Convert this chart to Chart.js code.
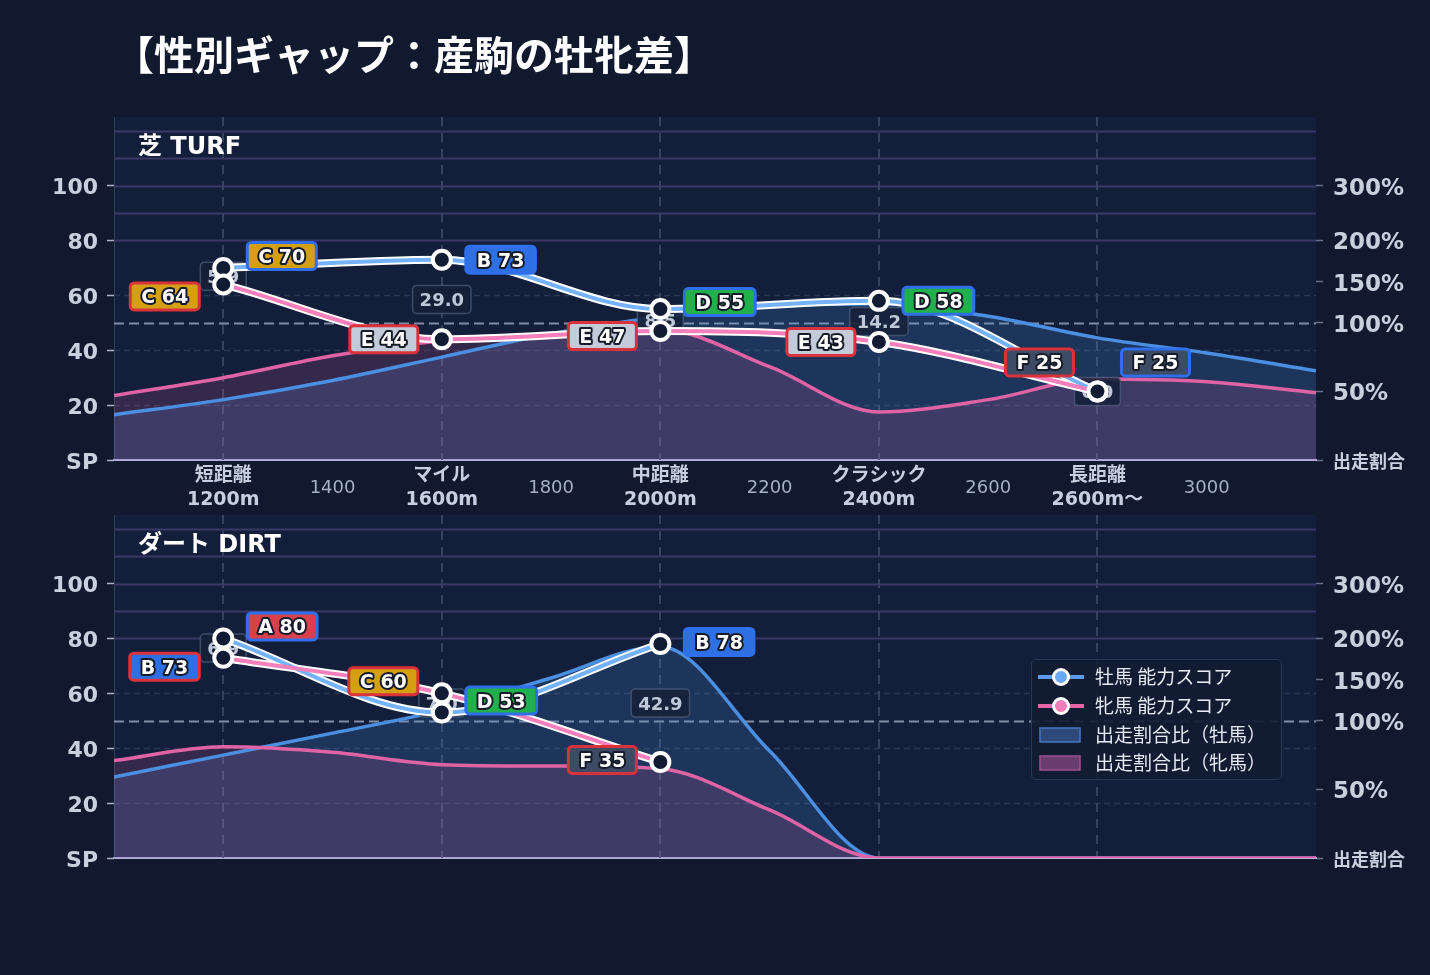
<!DOCTYPE html>
<html><head><meta charset="utf-8">
<script src="https://cdn.jsdelivr.net/npm/chart.js@4.4.1/dist/chart.umd.min.js"></script>
<style>
html,body{margin:0;padding:0;background:#10192e;width:1430px;height:975px;overflow:hidden;}
#wrap{position:relative;width:1430px;height:975px;}
#title{position:absolute;left:114px;top:33px;font:bold 40px 'Noto Sans CJK JP',sans-serif;line-height:40px;color:#ffffff;white-space:nowrap;z-index:5;}
canvas{position:absolute;left:0;}
#turf{top:0;}
#dirt{top:500px;}
#legend{position:absolute;left:1031px;top:659px;width:249px;height:119px;border:1.5px solid #2b3653;border-radius:5px;background:rgba(17,27,50,0.92);z-index:5;}
.row{position:absolute;left:0;height:29px;width:100%;}
.row svg{position:absolute;left:6px;top:4px;}
.row span{position:absolute;left:63px;top:-1px;font:19px 'Noto Sans CJK JP',sans-serif;line-height:29px;color:#e6eaf2;white-space:nowrap;}
</style></head>
<body><div id="wrap">
<div id="title">【性別ギャップ：産駒の牡牝差】</div>
<canvas id="turf" width="1430" height="520"></canvas>
<canvas id="dirt" width="1430" height="420"></canvas>
<div id="legend">
  <div class="row" style="top:2px"><svg width="48" height="22"><line x1="0" y1="11" x2="46" y2="11" stroke="#5b9cf0" stroke-width="4"/><circle cx="23" cy="11" r="7.5" fill="#6aaaf5" stroke="#fff" stroke-width="3"/></svg><span>牡馬 能力スコア</span></div>
  <div class="row" style="top:31px"><svg width="48" height="22"><line x1="0" y1="11" x2="46" y2="11" stroke="#e866a8" stroke-width="4"/><circle cx="23" cy="11" r="7.5" fill="#f27cb8" stroke="#fff" stroke-width="3"/></svg><span>牝馬 能力スコア</span></div>
  <div class="row" style="top:60px"><svg width="48" height="22"><rect x="2" y="4" width="40" height="14" fill="#2e4a7a" stroke="#4677c2" stroke-width="1.5"/></svg><span>出走割合比（牡馬）</span></div>
  <div class="row" style="top:88px"><svg width="48" height="22"><rect x="2" y="4" width="40" height="14" fill="#6b3d6e" stroke="#9c4f8e" stroke-width="1.5"/></svg><span>出走割合比（牝馬）</span></div>
</div>
</div>
<script>
// ---------- data ----------
const categoryDistances = [1200, 1600, 2000, 2400, 2800];
const ratioDistances = [1000, 1200, 1400, 1600, 1800, 2000, 2200, 2400, 2600, 2800, 3000, 3200];
const xTickValues = [1200, 1400, 1600, 1800, 2000, 2200, 2400, 2600, 2800, 3000];
const xTickLabels = [['短距離','1200m'], '1400', ['マイル','1600m'], '1800', ['中距離','2000m'], '2200', ['クラシック','2400m'], '2600', ['長距離','2600m〜'], '3000'];
const yTickValues = [0, 20, 40, 60, 80, 100];
const yTickLabels = ['SP', '20', '40', '60', '80', '100'];
const ratioTickPercents = [0, 50, 100, 150, 200, 300];
const ratioTickLabels = ['出走割合', '50%', '100%', '150%', '200%', '300%'];

const turfMaleScore = [70, 73, 55, 58, 25];
const turfFemaleScore = [64, 44, 47, 43, 25];
const turfMaleGrade = ['C', 'B', 'D', 'D', 'F'];
const turfFemaleGrade = ['C', 'E', 'E', 'E', 'F'];
const turfGap = [5.9, 29.0, 8.5, 14.2, 0.0];
const turfMaleRatio = [33, 44, 58, 75, 92, 107, 120, 123, 108, 89, 78, 65];
const turfFemaleRatio = [47, 60, 76, 87, 92, 95, 68, 35, 44, 59, 57, 49];

const dirtMaleScore = [80, 53, 78, null, null];
const dirtFemaleScore = [73, 60, 35, null, null];
const dirtMaleGrade = ['A', 'D', 'B', null, null];
const dirtFemaleGrade = ['B', 'C', 'F', null, null];
const dirtGap = [6.9, 7.0, 42.9, null, null];
const dirtMaleRatio = [59, 75, 91, 113, 152, 190, 78, 0, 0, 0, 0, 0];
const dirtFemaleRatio = [71, 81, 77, 68, 67, 65, 35, 0, 0, 0, 0, 0];

// ---------- styles ----------
const FONT = "'DejaVu Sans', 'Noto Sans CJK JP', sans-serif";
const GRADE_FILL = {A:'#d8414b', B:'#2f6fe4', C:'#d4a012', D:'#21b04b', E:'#c3cbd9', F:'#3d4b64'};
const SEX_BORDER = {male:'#2f6fec', female:'#d9323a'};
const LABEL_NUDGE = {
  turf: {male: [-12, 0, -7, 0, -29], female: [12, 0, 5, 0, -29]},
  dirt: {male: [-12, -12, -2, 0, 0], female: [9, -12, -2, 0, 0]}
};

// right axis: piecewise mapping of ratio (%) onto the shared score scale
function ratioToScale(p) {
  if (p <= 100) return p / 2;
  if (p <= 200) return 50 + (p - 100) * 0.3;
  return 80 + (p - 200) * 0.2;
}

function drawBox(ctx, cx, cy, w, h, fill, stroke, lw) {
  ctx.beginPath();
  ctx.roundRect(cx - w / 2, cy - h / 2, w, h, 4);
  ctx.fillStyle = fill; ctx.fill();
  ctx.lineWidth = lw; ctx.strokeStyle = stroke; ctx.stroke();
}

const panelPlugin = {
  id: 'panel',
  beforeDraw(chart) {
    const {ctx, chartArea: a} = chart;
    ctx.save();
    ctx.fillStyle = '#131f3a';
    ctx.fillRect(a.left, a.top, a.right - a.left, a.bottom - a.top);
    ctx.restore();
  },
  beforeDatasetsDraw(chart) {
    const {ctx, chartArea: a, scales: {x, y}} = chart;
    ctx.save();
    ctx.strokeStyle = '#3a3866'; ctx.lineWidth = 2; ctx.setLineDash([]);
    [80, 90, 100, 110, 120].forEach(v => {
      const py = Math.round(y.getPixelForValue(v)) + 0.5;
      ctx.beginPath(); ctx.moveTo(a.left, py); ctx.lineTo(a.right, py); ctx.stroke();
    });
    ctx.strokeStyle = '#2a3655'; ctx.lineWidth = 1.5; ctx.setLineDash([6, 4]);
    [20, 40, 60].forEach(v => {
      const py = Math.round(y.getPixelForValue(v)) + 0.5;
      ctx.beginPath(); ctx.moveTo(a.left, py); ctx.lineTo(a.right, py); ctx.stroke();
    });
    ctx.strokeStyle = '#36435f'; ctx.lineWidth = 2; ctx.setLineDash([9, 7]);
    categoryDistances.forEach(d => {
      const px = Math.round(x.getPixelForValue(d));
      ctx.beginPath(); ctx.moveTo(px, a.top); ctx.lineTo(px, a.bottom); ctx.stroke();
    });
    ctx.strokeStyle = 'rgba(150,162,185,0.85)'; ctx.lineWidth = 2; ctx.setLineDash([10, 5]);
    const p100 = Math.round(y.getPixelForValue(ratioToScale(100))) + 0.5;
    ctx.beginPath(); ctx.moveTo(a.left, p100); ctx.lineTo(a.right, p100); ctx.stroke();
    ctx.restore();
  },
  afterDatasetDraw(chart, args) {
    const ds = chart.data.datasets[args.index];
    if (ds.id !== 'femaleRatioLine') return;
    const spec = chart.options.plugins.panel;
    const {ctx, scales: {x, y}} = chart;
    ctx.save();
    ctx.font = 'bold 18px ' + FONT; ctx.textAlign = 'center'; ctx.textBaseline = 'middle';
    categoryDistances.forEach((d, i) => {
      const g = spec.gap[i];
      if (g === null || g === undefined) return;
      const mid = (spec.male[i] + spec.female[i]) / 2;
      const px = x.getPixelForValue(d), py = y.getPixelForValue(mid);
      const t = g.toFixed(1);
      const w = ctx.measureText(t).width + 14;
      drawBox(ctx, px, py, w, 28, 'rgba(22,32,56,0.9)', 'rgba(80,95,125,0.7)', 1.5);
      ctx.fillStyle = '#bfc8d8'; ctx.fillText(t, px, py + 2);
    });
    ctx.restore();
  },
  afterDatasetsDraw(chart) {
    const spec = chart.options.plugins.panel;
    const {ctx, chartArea: a, scales: {x, y}} = chart;
    ctx.save();
    ctx.font = 'bold 19px ' + FONT; ctx.textAlign = 'center'; ctx.textBaseline = 'middle';
    ctx.lineJoin = 'round';
    const draw = (score, grade, sex, nudge, i) => {
      if (score === null) return;
      const px = x.getPixelForValue(categoryDistances[i]);
      const py = y.getPixelForValue(score) + nudge;
      const t = grade + ' ' + score;
      const w = ctx.measureText(t).width + 22;
      const cx = sex === 'male' ? px + 24 + w / 2 : px - 24 - w / 2;
      drawBox(ctx, cx, py, w, 27, GRADE_FILL[grade], SEX_BORDER[sex], 3);
      ctx.strokeStyle = '#161b2a'; ctx.lineWidth = 4;
      ctx.strokeText(t, cx, py + 2);
      ctx.fillStyle = '#ffffff'; ctx.fillText(t, cx, py + 2);
    };
    categoryDistances.forEach((d, i) => {
      draw(spec.female[i], spec.femaleGrade[i], 'female', spec.nudge.female[i], i);
      draw(spec.male[i], spec.maleGrade[i], 'male', spec.nudge.male[i], i);
    });
    ctx.font = 'bold 24px ' + FONT; ctx.textAlign = 'left'; ctx.fillStyle = '#ffffff';
    ctx.fillText(spec.title, a.left + 24, a.top + 31);
    if (spec.showXLabels) {
      ctx.textAlign = 'center';
      xTickValues.forEach((v, i) => {
        const lab = xTickLabels[i];
        const px = x.getPixelForValue(v);
        if (Array.isArray(lab)) {
          ctx.font = 'bold 19px ' + FONT; ctx.fillStyle = '#c6cfe0';
          ctx.fillText(lab[0], px, a.bottom + 16);
          ctx.fillText(lab[1], px, a.bottom + 40);
        } else {
          ctx.font = '18px ' + FONT; ctx.fillStyle = '#a4b0c5';
          ctx.fillText(lab, px, a.bottom + 28);
        }
      });
    }
    ctx.restore();
  }
};

function makeChart(id, spec, padTop, xHeight) {
  const catPts = arr => categoryDistances.map((d, i) => ({x: d, y: arr[i]})).filter(p => p.y !== null);
  const ratioPts = arr => ratioDistances.map((d, i) => ({x: d, y: ratioToScale(arr[i])}));
  const mono = 'monotone';
  const datasets = [
    {id: 'maleRatioFill', data: ratioPts(spec.maleRatio), borderWidth: 0, borderColor: 'rgba(0,0,0,0)', backgroundColor: 'rgba(74,144,226,0.2)', fill: 'origin', pointRadius: 0, cubicInterpolationMode: mono, order: 12},
    {id: 'femaleRatioFill', data: ratioPts(spec.femaleRatio), borderWidth: 0, borderColor: 'rgba(0,0,0,0)', backgroundColor: 'rgba(224,96,160,0.17)', fill: 'origin', pointRadius: 0, cubicInterpolationMode: mono, order: 11},
    {id: 'maleRatioLine', data: ratioPts(spec.maleRatio), borderColor: '#4b8fe2', borderWidth: 3.5, fill: false, pointRadius: 0, cubicInterpolationMode: mono, order: 10},
    {id: 'femaleRatioLine', data: ratioPts(spec.femaleRatio), borderColor: '#e063a6', borderWidth: 3.5, fill: false, pointRadius: 0, cubicInterpolationMode: mono, order: 9},
    {id: 'maleOutline', data: catPts(spec.male), borderColor: '#ffffff', borderWidth: 8, pointRadius: 0, fill: false, cubicInterpolationMode: mono, order: 4},
    {id: 'femaleOutline', data: catPts(spec.female), borderColor: '#ffffff', borderWidth: 8, pointRadius: 0, fill: false, cubicInterpolationMode: mono, order: 3},
    {id: 'maleScore', data: catPts(spec.male), borderColor: '#74b2fc', borderWidth: 4, pointRadius: 9, pointBorderWidth: 4, pointBorderColor: '#ffffff', pointBackgroundColor: '#111b34', fill: false, cubicInterpolationMode: mono, order: 2},
    {id: 'femaleScore', data: catPts(spec.female), borderColor: '#f47fba', borderWidth: 4, pointRadius: 9, pointBorderWidth: 4, pointBorderColor: '#ffffff', pointBackgroundColor: '#111b34', fill: false, cubicInterpolationMode: mono, order: 1}
  ];
  return new Chart(document.getElementById(id), {
    type: 'line',
    data: {datasets},
    plugins: [panelPlugin],
    options: {
      responsive: false, animation: false, devicePixelRatio: 1, events: [],
      layout: {padding: {top: padTop, left: 0, right: 0, bottom: 0}},
      plugins: {legend: {display: false}, tooltip: {enabled: false}, panel: spec},
      scales: {
        x: {
          type: 'linear', min: 1000, max: 3200,
          afterBuildTicks: s => { s.ticks = xTickValues.map(v => ({value: v})); },
          afterFit: s => { s.height = xHeight; s.paddingLeft = 0; s.paddingRight = 0; },
          ticks: {display: false},
          grid: {display: true, drawOnChartArea: false, drawTicks: false},
          border: {display: true, color: '#b7b0da', width: 2}
        },
        y: {
          position: 'left', min: 0, max: 125,
          afterBuildTicks: s => { s.ticks = yTickValues.map(v => ({value: v})); },
          afterFit: s => { s.width = 114; s.paddingTop = 0; s.paddingBottom = 0; },
          ticks: {
            callback: v => yTickLabels[yTickValues.indexOf(v)],
            font: {family: FONT, size: 22, weight: 'bold'}, color: '#c8d0de', padding: 9, labelOffset: 3
          },
          grid: {drawOnChartArea: false, drawTicks: true, tickLength: 7, tickColor: '#aab3c5', tickWidth: 1.5},
          border: {display: true, color: 'rgba(110,120,160,0.35)', width: 1}
        },
        y2: {
          position: 'right', min: 0, max: 125,
          afterBuildTicks: s => { s.ticks = ratioTickPercents.map(p => ({value: ratioToScale(p)})); },
          afterFit: s => { s.width = 114; s.paddingTop = 0; s.paddingBottom = 0; },
          ticks: {
            callback: v => ratioTickLabels[ratioTickPercents.findIndex(p => ratioToScale(p) === v)],
            font: c => ({family: FONT, size: c.tick && c.tick.value === 0 ? 18 : 23, weight: 'bold'}),
            color: '#c8d0de', padding: 10, labelOffset: 3
          },
          grid: {drawOnChartArea: false, drawTicks: true, tickLength: 7, tickColor: '#66718c', tickWidth: 1.5},
          border: {display: false}
        }
      }
    }
  });
}

makeChart('turf', {
  title: '芝 TURF', showXLabels: true,
  male: turfMaleScore, female: turfFemaleScore,
  maleGrade: turfMaleGrade, femaleGrade: turfFemaleGrade,
  gap: turfGap, maleRatio: turfMaleRatio, femaleRatio: turfFemaleRatio,
  nudge: LABEL_NUDGE.turf
}, 117, 60);

makeChart('dirt', {
  title: 'ダート DIRT', showXLabels: false,
  male: dirtMaleScore, female: dirtFemaleScore,
  maleGrade: dirtMaleGrade, femaleGrade: dirtFemaleGrade,
  gap: dirtGap, maleRatio: dirtMaleRatio, femaleRatio: dirtFemaleRatio,
  nudge: LABEL_NUDGE.dirt
}, 15, 62);
</script>
</body></html>
